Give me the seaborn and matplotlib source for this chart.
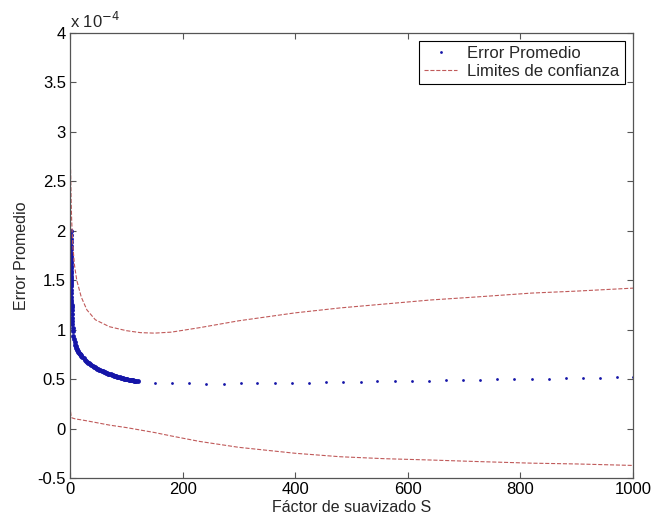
import matplotlib
matplotlib.use("Agg")
import matplotlib.pyplot as plt
import seaborn as sns
import pandas as pd
from matplotlib.ticker import FuncFormatter

# Error promedio (units of 1e-4): dense part near the origin
dense_x = [1.0, 1.05, 1.1, 1.15, 1.2, 1.25, 1.3, 1.35, 1.4, 1.45, 1.5, 1.55, 1.6, 1.65,
           1.7, 1.75, 1.8, 1.85, 1.9, 1.95, 2.0, 2.125, 2.25, 2.375, 2.5, 2.625, 2.75,
           2.875, 3.0, 3.25, 3.5, 3.75, 4, 4.5, 5, 6, 7, 8, 9, 10,
           11, 12, 13, 14, 15, 16, 17, 18, 19, 20, 22, 24, 26, 28, 30, 32, 34, 36, 38,
           40, 42, 44, 46, 48, 50, 52, 54, 56, 58, 60, 62, 64, 66, 68, 70, 72, 74, 76,
           78, 80, 82, 84, 86, 88, 90, 92, 94, 96, 98, 100, 102, 104, 106, 108, 110,
           112, 114, 116, 118, 120]
dense_y = [2.00, 1.96, 1.92, 1.885, 1.85, 1.815, 1.78, 1.75, 1.72, 1.695, 1.67, 1.645,
           1.62, 1.595, 1.57, 1.545, 1.52, 1.50, 1.48, 1.46, 1.44, 1.405, 1.37, 1.335,
           1.30, 1.275, 1.25, 1.225, 1.20, 1.16, 1.12, 1.09, 1.06, 1.02, 0.99, 0.94,
           0.905, 0.875, 0.85, 0.83,
           0.815, 0.80, 0.79, 0.78, 0.772, 0.765, 0.757, 0.75, 0.742, 0.735,
           0.722, 0.71, 0.698, 0.687, 0.677, 0.667, 0.658, 0.65, 0.642,
           0.634, 0.627, 0.62, 0.613, 0.607, 0.601, 0.595, 0.589, 0.584, 0.579,
           0.574, 0.569, 0.564, 0.56, 0.555, 0.551, 0.547, 0.543, 0.539,
           0.535, 0.531, 0.528, 0.524, 0.521, 0.518, 0.515, 0.512, 0.509, 0.506,
           0.503, 0.50, 0.498, 0.495, 0.493, 0.49, 0.488,
           0.486, 0.484, 0.482, 0.48, 0.478]
# sparse part
sparse_x = [151, 181, 212, 242, 273, 303, 333, 364, 394, 425, 455, 485, 516, 546, 577,
            607, 637, 668, 698, 729, 759, 789, 820, 850, 881, 911, 941, 972, 1000]
sparse_y = [0.465, 0.46, 0.457, 0.455, 0.455, 0.456, 0.458, 0.46, 0.462, 0.465, 0.468,
            0.47, 0.473, 0.476, 0.479, 0.482, 0.485, 0.488, 0.491, 0.494, 0.497, 0.50,
            0.503, 0.506, 0.509, 0.512, 0.515, 0.518, 0.521]

# limites de confianza (units of 1e-4)
lim_x = [1, 2, 3, 5, 8, 12, 20, 30, 45, 70, 100, 125, 150, 180, 230, 300, 400,
         480, 560, 640, 720, 820, 900, 1000]
lim_up = [2.62, 2.3, 2.1, 1.85, 1.65, 1.5, 1.33, 1.2, 1.1, 1.03, 0.99, 0.97, 0.965,
          0.975, 1.02, 1.09, 1.17, 1.22, 1.26, 1.30, 1.33, 1.37, 1.39, 1.42]
lim_low = [0.17, 0.12, 0.11, 0.105, 0.1, 0.095, 0.088, 0.078, 0.062, 0.035, 0.01,
           -0.015, -0.04, -0.075, -0.13, -0.19, -0.25, -0.285, -0.305, -0.318,
           -0.333, -0.35, -0.358, -0.373]

sns.set_style("ticks")
plt.rcParams["font.family"] = ["Liberation Sans", "DejaVu Sans"]

df_dense = pd.DataFrame({"x": dense_x, "y": dense_y})
df_sparse = pd.DataFrame({"x": sparse_x, "y": sparse_y})
df_lim = pd.DataFrame({"x": lim_x, "up": lim_up, "low": lim_low})

fig = plt.figure(figsize=(6.55, 5.24), dpi=100)
ax = fig.add_axes([70 / 655, 1 - 478 / 524, 563 / 655, 445 / 524])

blue = "#1515a8"
red = "#c05a5a"
sns.lineplot(data=df_sparse, x="x", y="y", ax=ax, linestyle="none", marker=".",
             markersize=4, color=blue, markeredgewidth=0,
             estimator=None, sort=False, label="Error Promedio")
sns.lineplot(data=df_dense, x="x", y="y", ax=ax, linestyle="none", marker=".",
             markersize=7, color=blue, markeredgewidth=0,
             estimator=None, sort=False)
sns.lineplot(data=df_lim, x="x", y="up", ax=ax, color=red, linestyle="--",
             linewidth=0.8, dashes=(6, 3), estimator=None, sort=False,
             label="Limites de confianza")
sns.lineplot(data=df_lim, x="x", y="low", ax=ax, color=red, linestyle="--",
             linewidth=0.8, dashes=(6, 3), estimator=None, sort=False)

ax.set_xlim(0, 1000)
ax.set_ylim(-0.5, 4)
ax.set_xticks([0, 200, 400, 600, 800, 1000])
ax.set_yticks([-0.5, 0, 0.5, 1, 1.5, 2, 2.5, 3, 3.5, 4])
ax.yaxis.set_major_formatter(FuncFormatter(lambda v, p: "%g" % v))
ax.tick_params(direction="in", length=4, width=0.8, labelsize=12, colors="#555555",
               labelcolor="black", top=True, right=True, pad=3)
for s in ax.spines.values():
    s.set_visible(True)
    s.set_color("#555555")
    s.set_linewidth(0.9)

ax.set_xlabel("Fáctor de suavizado S", fontsize=11.5, labelpad=2)
ax.set_ylabel("Error Promedio", fontsize=11.5, labelpad=6)
ax.text(0.0, 1.005, r"x 10$^{-4}$", transform=ax.transAxes, fontsize=12,
        ha="left", va="bottom")

leg = ax.legend(loc="upper right", fontsize=12, frameon=True, fancybox=False,
                edgecolor="black", framealpha=1, handlelength=2.0,
                borderpad=0.3, labelspacing=0.15, handletextpad=0.6,
                borderaxespad=0.5)
leg.get_frame().set_linewidth(0.8)

fig.savefig("out.png", dpi=100)
